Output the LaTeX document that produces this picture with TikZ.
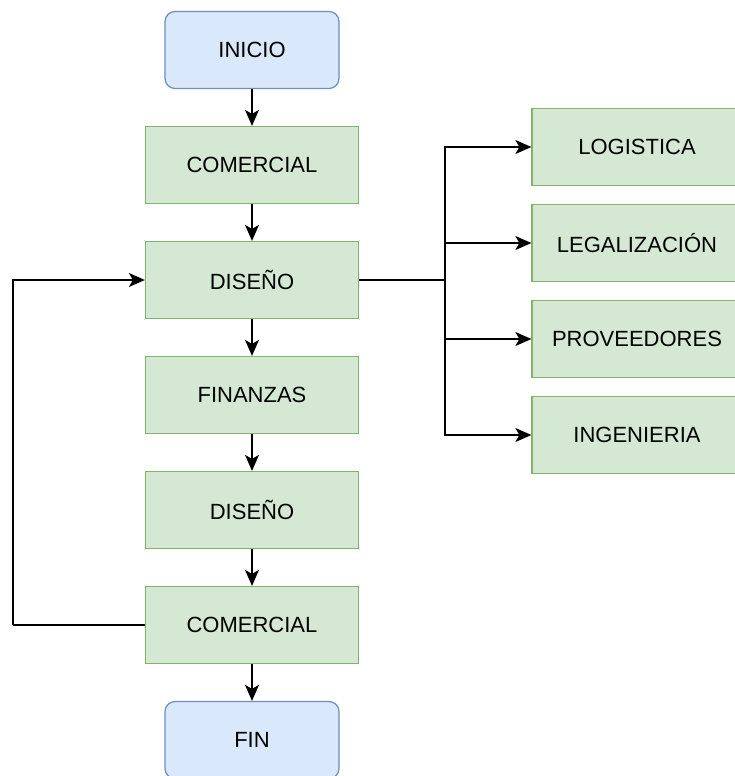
\documentclass[tikz,border=0pt]{standalone}
\usepackage{fontspec}
\setmainfont{Liberation Sans}
\usetikzlibrary{arrows.meta,positioning}
\definecolor{bluefill}{HTML}{DAE8FC}
\definecolor{blueline}{HTML}{6C8EBF}
\definecolor{greenfill}{HTML}{D5E8D4}
\definecolor{greenline}{HTML}{82B366}
\tikzset{
    endbox/.style={rectangle, rounded corners=10pt, draw=blueline, fill=bluefill, line width=1.2pt,
                   minimum width=174pt, minimum height=77pt, font=\fontsize{22}{26}\selectfont},
    areabox/.style={rectangle, draw=greenline, fill=greenfill, line width=1.2pt,
                    minimum width=213pt, minimum height=77pt, font=\fontsize{22}{26}\selectfont},
    link/.style={line width=1.5pt, -{Stealth[length=16pt,width=14pt,inset=4pt]}}
}
\begin{document}
\begin{tikzpicture}[
                            x=1pt, y=-1pt,
                            node distance=115pt
                        ]
                        \useasboundingbox (0,0) rectangle (734,776);
                        % Blocks
                        \node [endbox] (inicio) at (252,50) {INICIO};
                        \node [areabox,below of=inicio] (com1) {COMERCIAL};
                        \node [areabox,below of=com1] (dis1) {DISEÑO};
                        \node [areabox,below of=dis1] (fin1) {FINANZAS};
                        \node [areabox,below of=fin1] (dis2) {DISEÑO};
                        \node [areabox,below of=dis2] (com2) {COMERCIAL};
                        \node [endbox,below of=com2] (fin) {FIN};

                        \node [areabox,minimum width=210pt] (logi) at (637,147) {LOGISTICA};
                        \node [areabox,minimum width=210pt,below of=logi,node distance=96pt] (lega) {LEGALIZACIÓN};
                        \node [areabox,minimum width=210pt,below of=lega,node distance=96pt] (prov) {PROVEEDORES};
                        \node [areabox,minimum width=210pt,below of=prov,node distance=96pt] (inge) {INGENIERIA};
                        \coordinate (split) at (445,280);
                        \coordinate (back) at (13,625);

                        % Connections
                        \draw [link] (inicio) -- (com1);
                        \draw [link] (com1) -- (dis1);
                        \draw [link] (dis1) -- (fin1);
                        \draw [link] (fin1) -- (dis2);
                        \draw [link] (dis2) -- (com2);
                        \draw [link] (com2) -- (fin);
                        \draw [line width=1.5pt] (dis1.east) -- (split);
                        \draw [link] (split) |- (logi);
                        \draw [link] (split) |- (lega);
                        \draw [link] (split) |- (prov);
                        \draw [link] (split) |- (inge);
                        \draw [line width=1.5pt] (com2.west) -- (back);
                        \draw [link] (back) |- (dis1);
                    \end{tikzpicture}
\end{document}
